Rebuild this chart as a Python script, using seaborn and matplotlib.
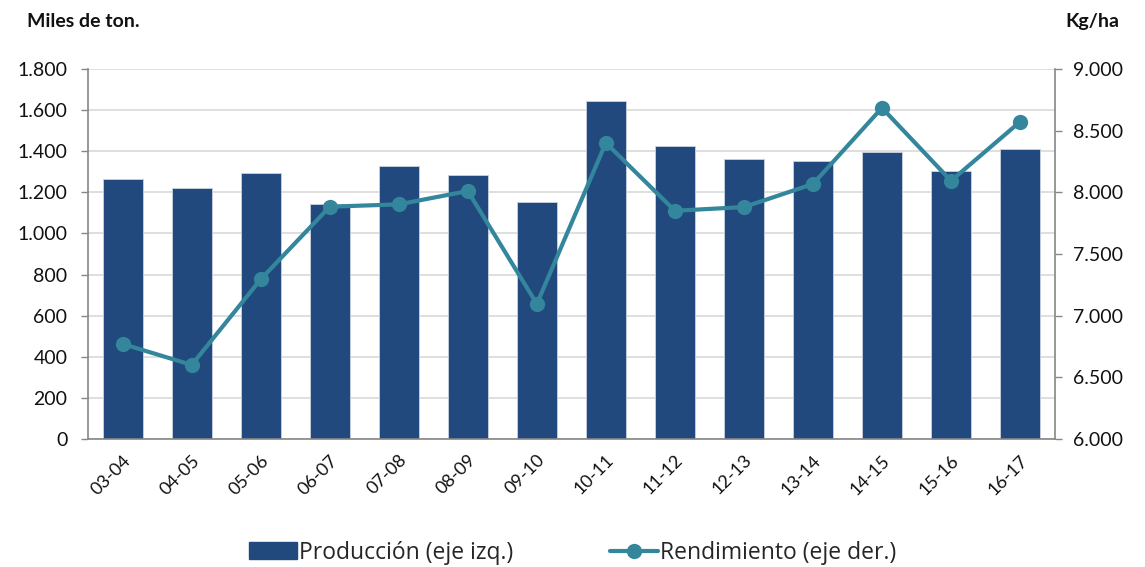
import matplotlib
matplotlib.use("Agg")
import matplotlib.pyplot as plt
from matplotlib.ticker import FuncFormatter, MultipleLocator
import numpy as np
import pandas as pd
import seaborn as sns

campaigns = ["03-04", "04-05", "05-06", "06-07", "07-08", "08-09", "09-10",
             "10-11", "11-12", "12-13", "13-14", "14-15", "15-16", "16-17"]
produccion = [1263, 1221, 1294, 1144, 1328, 1287, 1153,
              1645, 1428, 1362, 1353, 1396, 1303, 1412]
rendimiento = [6770, 6600, 7295, 7884, 7903, 8011, 7095,
               8402, 7851, 7881, 8068, 8686, 8094, 8573]

BAR_COLOR = "#21497D"
LINE_COLOR = "#33869B"
GRID = "#D9D9D9"
SPINE = "#868686"


def miles(x, _pos):
    return f"{int(round(x)):,}".replace(",", ".")


sns.set_theme(style="white")
plt.rcParams["font.family"] = ["Lato", "DejaVu Sans"]

df = pd.DataFrame({"campana": campaigns, "produccion": produccion,
                   "rendimiento": rendimiento, "pos": np.arange(len(campaigns))})

fig = plt.figure(figsize=(11.45, 5.67), dpi=100)
ax = fig.add_axes([0.077, 0.226, 0.844, 0.652])

sns.barplot(data=df, x="campana", y="produccion", color=BAR_COLOR, width=0.58,
            saturation=1, edgecolor="#C9D3E0", linewidth=0.6, ax=ax, zorder=2)
ax.set_ylim(0, 1800)
ax.set_xlim(-0.5, len(campaigns) - 0.5)
ax.yaxis.set_major_locator(MultipleLocator(200))
ax.yaxis.set_major_formatter(FuncFormatter(miles))
ax.grid(axis="y", color=GRID, linewidth=1.2, zorder=0)
ax.set_axisbelow(True)
ax.set_xlabel("")
ax.set_ylabel("")

ax2 = ax.twinx()
sns.lineplot(data=df, x="pos", y="rendimiento", color=LINE_COLOR, linewidth=3,
             marker="o", markersize=11, markeredgewidth=0, ax=ax2, zorder=3)
ax2.set_ylim(6000, 9000)
ax2.yaxis.set_major_locator(MultipleLocator(500))
ax2.yaxis.set_major_formatter(FuncFormatter(miles))
ax2.set_xlabel("")
ax2.set_ylabel("")
ax2.set_xlim(-0.5, len(campaigns) - 0.5)

for a in (ax, ax2):
    a.spines["top"].set_visible(False)
    for side in ("left", "right", "bottom"):
        a.spines[side].set_color(SPINE)
        a.spines[side].set_linewidth(1.2)
ax.spines["right"].set_visible(False)
ax2.spines["left"].set_visible(False)
ax2.spines["bottom"].set_visible(False)

ax.tick_params(axis="y", left=True, length=5, width=1, color=SPINE,
               labelsize=14, pad=10, labelcolor="#111111")
ax.tick_params(axis="x", bottom=False, labelsize=13, labelcolor="#111111")
ax2.tick_params(axis="y", right=True, length=5, width=1, color=SPINE,
                labelsize=14, pad=8, labelcolor="#111111")
plt.setp(ax.get_xticklabels(), rotation=45, ha="right", rotation_mode="anchor")

fig.text(0.024, 0.962, "Miles de ton.", fontsize=14, fontweight="bold",
         ha="left", va="center", color="#111111")
fig.text(0.978, 0.962, "Kg/ha", fontsize=14, fontweight="bold",
         ha="right", va="center", color="#111111")

h1 = plt.Rectangle((0, 0), 1, 1, color=BAR_COLOR)
h2 = plt.Line2D([], [], color=LINE_COLOR, linewidth=3, marker="o",
                markersize=11, markeredgewidth=0)
fig.legend([h1, h2], ["Producción (eje izq.)", "Rendimiento (eje der.)"],
           loc="center", bbox_to_anchor=(0.5, 0.025), ncol=2, frameon=False,
           prop={"family": ["Open Sans", "DejaVu Sans"], "size": 16.5},
           handlelength=2.1, handleheight=0.75, handletextpad=0.1,
           columnspacing=4.2)

fig.savefig("out.png", dpi=100)
